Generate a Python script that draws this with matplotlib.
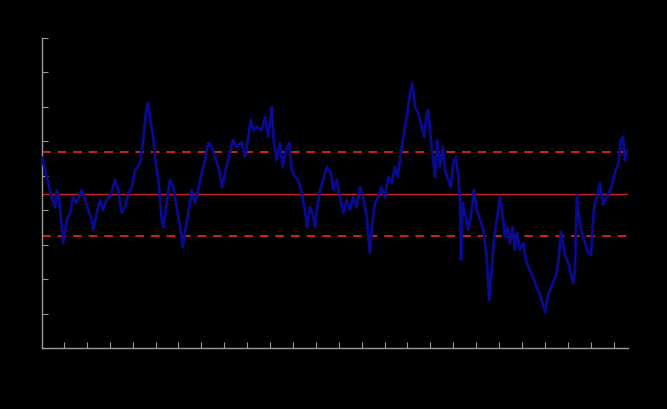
import numpy as np
import matplotlib as mpl
import matplotlib.pyplot as plt

mpl.use('Agg')

# decimal years
dates = [1990.04, 1990.24, 1990.46, 1990.61, 1990.68, 1990.78, 1990.90, 1990.97,
         1991.12, 1991.26, 1991.41, 1991.55, 1991.77, 1991.92, 1992.06, 1992.21,
         1992.28, 1992.43, 1992.57, 1992.70, 1992.86, 1993.08, 1993.23, 1993.37,
         1993.52, 1993.66, 1993.81, 1993.96, 1994.10, 1994.32, 1994.46, 1994.61,
         1994.68, 1994.76, 1994.90, 1994.97, 1995.12, 1995.27, 1995.34, 1995.48,
         1995.63, 1995.77, 1995.92, 1996.07, 1996.18, 1996.28, 1996.43, 1996.58,
         1996.72, 1996.86, 1997.01, 1997.16, 1997.30, 1997.45, 1997.59, 1997.74,
         1997.91, 1998.03, 1998.17, 1998.37, 1998.54, 1998.76, 1998.90, 1999.05,
         1999.15, 1999.27, 1999.42, 1999.63, 1999.78, 1999.92, 2000.07, 2000.17,
         2000.29, 2000.43, 2000.55, 2000.69, 2000.84, 2000.94, 2001.09, 2001.23,
         2001.38, 2001.52, 2001.62, 2001.74, 2001.86, 2001.96, 2002.06, 2002.18,
         2002.32, 2002.47, 2002.66, 2002.76, 2002.91, 2003.05, 2003.20, 2003.34,
         2003.49, 2003.63, 2003.78, 2003.93, 2004.07, 2004.22, 2004.36, 2004.46,
         2004.58, 2004.72, 2004.87, 2005.02, 2005.16, 2005.31, 2005.45, 2005.57,
         2005.67, 2005.82, 2005.97, 2006.11, 2006.21, 2006.33, 2006.47, 2006.62,
         2006.73, 2006.84, 2006.91, 2007.01, 2007.13, 2007.20, 2007.30, 2007.42,
         2007.54, 2007.64, 2007.78, 2007.89, 2008.00, 2008.12, 2008.22, 2008.29,
         2008.34, 2008.41, 2008.51, 2008.66, 2008.80, 2008.90, 2009.02, 2009.17,
         2009.31, 2009.46, 2009.57, 2009.68, 2009.78, 2009.92, 2010.04, 2010.16,
         2010.26, 2010.36, 2010.48, 2010.59, 2010.69, 2010.79, 2010.91, 2011.06,
         2011.17, 2011.28, 2011.44, 2011.61, 2011.79, 2012.01, 2012.14, 2012.31,
         2012.49, 2012.59, 2012.70, 2012.88, 2013.05, 2013.23, 2013.31, 2013.40,
         2013.53, 2013.71, 2013.88, 2014.01, 2014.14, 2014.28, 2014.41, 2014.54,
         2014.67, 2014.80, 2014.93, 2015.06, 2015.19, 2015.32, 2015.41, 2015.50,
         2015.63]

values = [55.2, 49.7, 43.8, 40.9, 45.9, 43.8, 35.1, 30.5,
          37.2, 39.2, 43.8, 42.1, 45.9, 43.0, 40.1, 37.2,
          34.3, 39.2, 43.0, 40.1, 43.0, 45.0, 48.8, 45.9,
          39.2, 40.9, 45.0, 46.7, 51.7, 53.7, 60.4, 70.0,
          71.1, 66.2, 61.3, 55.5, 48.8, 37.2, 35.1, 42.1,
          48.8, 46.7, 40.9, 35.1, 29.3, 33.4, 39.2, 45.9,
          42.1, 45.9, 50.8, 54.6, 59.5, 58.4, 55.5, 52.6,
          46.7, 50.8, 54.6, 60.4, 58.4, 59.8, 55.5, 61.3,
          66.2, 63.3, 64.2, 63.3, 67.1, 61.3, 70.0, 59.5,
          54.6, 59.5, 52.6, 57.5, 59.5, 51.7, 49.7, 48.8,
          45.0, 40.1, 35.1, 40.9, 39.2, 35.1, 40.9, 45.9,
          48.8, 52.6, 50.8, 45.9, 48.8, 43.8, 39.2, 43.0,
          40.1, 43.8, 40.9, 46.7, 43.8, 38.0, 27.6, 36.3,
          42.1, 43.8, 46.7, 43.8, 49.7, 47.9, 52.6, 49.7,
          54.6, 61.3, 67.1, 74.0, 76.9, 70.0, 68.2, 64.2,
          61.3, 68.2, 69.1, 61.3, 54.6, 49.7, 60.4, 52.6,
          58.4, 51.7, 48.8, 46.7, 53.7, 55.5, 49.7, 43.8,
          25.6, 42.1, 39.2, 34.3, 40.1, 45.9, 40.1, 37.2,
          34.3, 26.4, 13.9, 22.6, 32.2, 38.0, 43.8, 38.0,
          32.2, 35.1, 30.5, 35.1, 28.5, 33.4, 28.5, 30.5,
          25.6, 23.5, 21.2, 18.3, 15.4, 10.5, 15.4, 18.3,
          21.2, 25.0, 33.7, 27.0, 24.1, 18.9, 22.6, 44.4,
          35.7, 31.4, 27.9, 27.0, 40.1, 44.4, 47.9, 41.5,
          43.6, 45.0, 47.3, 51.1, 53.1, 60.4, 61.3, 54.6,
          57.5]

avg = 44.7
sd = 12.2

year_ticks = list(range(1991, 2016))
y_ticks = list(range(0, 100, 10))

fig = plt.figure(figsize=(6.67, 4.09), dpi=100, facecolor='black')
ax = fig.add_axes([0.063, 0.149, 0.8785, 0.758])
ax.set_facecolor('black')

ax.plot(dates, values, color='#0a0a90', linewidth=2.0, zorder=3)
ax.axhline(avg, color='#cc2020', linewidth=1.0, zorder=2)
ax.axhline(avg + sd, color='#cc2020', linewidth=1.4, dashes=(4.5, 3.5), zorder=2)
ax.axhline(avg - sd, color='#cc2020', linewidth=1.4, dashes=(4.5, 3.5), zorder=2)

ax.set_xlim(1990.04, 2015.63)
ax.set_ylim(0, 90)
ax.set_xticks(year_ticks)
ax.set_xticklabels([str(y) for y in year_ticks], color='black', fontsize=7, rotation=90)
ax.set_yticks(y_ticks)
ax.set_yticklabels([str(v) for v in y_ticks], color='black', fontsize=8)

for s in ['top', 'right']:
    ax.spines[s].set_visible(False)
for s in ['left', 'bottom']:
    ax.spines[s].set_color('#9a9a9a')
    ax.spines[s].set_linewidth(1.0)
ax.tick_params(direction='in', length=4, color='#9a9a9a', width=0.8)

fig.savefig('out.png', dpi=100, facecolor='black')
